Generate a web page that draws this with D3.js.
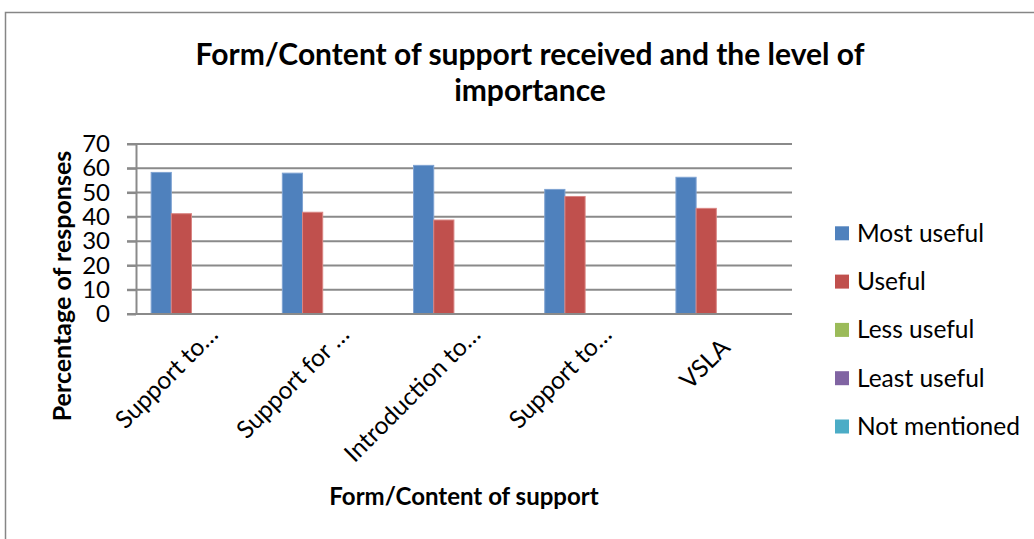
<!DOCTYPE html>
<html>
<head>
<meta charset="utf-8">
<script src="https://cdn.jsdelivr.net/npm/d3@7/dist/d3.min.js"></script>
<style>
  html, body { margin: 0; padding: 0; background: #fff; }
  svg { display: block; }
  text { font-family: Lato, "Open Sans", sans-serif; fill: #000; white-space: pre; }
</style>
</head>
<body>
<svg id="chart" width="1034" height="539"></svg>
<script>
// Categories (truncated labels as displayed on the axis)
const categories = ["Support to\u2026", "Support for \u2026", "Introduction to\u2026", "Support to\u2026", "VSLA"];
const seriesNames = ["Most useful", "Useful", "Less useful", "Least useful", "Not mentioned"];
const seriesColors = ["#4F81BD", "#C0504D", "#9BBB59", "#8064A2", "#4BACC6"];
const edgeColors  = ["#7FA3D2", "#D98583", "#B9D18A", "#A691C0", "#80C6D8"];

// Percentage of responses per series, one value per category
const mostUseful    = [58.3, 58.0, 61.2, 51.3, 56.3];
const useful        = [41.3, 41.9, 38.7, 48.4, 43.5];
const lessUseful    = [0, 0, 0, 0, 0];
const leastUseful   = [0, 0, 0, 0, 0];
const notMentioned  = [0, 0, 0, 0, 0];
const seriesValues = [mostUseful, useful, lessUseful, leastUseful, notMentioned];

const yTicks = [0, 10, 20, 30, 40, 50, 60, 70];

const svg = d3.select("#chart");

// Outer chart frame
svg.append("rect")
  .attr("x", 5.5).attr("y", 12.5)
  .attr("width", 1200).attr("height", 700)
  .attr("fill", "#fff").attr("stroke", "#868686").attr("stroke-width", 1.5);

const plot = { left: 136, right: 792, top: 144, bottom: 314 };

const y = d3.scaleLinear().domain([0, 70]).range([plot.bottom, plot.top]);
const x0 = d3.scaleBand().domain(d3.range(categories.length)).range([plot.left, plot.right]).padding(0);
const x1 = d3.scaleBand().domain(d3.range(seriesNames.length))
  .range([0, x0.bandwidth()]).paddingInner(0).paddingOuter(0.75);

// Horizontal gridlines
svg.append("g").selectAll("line").data(yTicks).join("line")
  .attr("x1", plot.left - 9).attr("x2", plot.right)
  .attr("y1", d => y(d)).attr("y2", d => y(d))
  .attr("stroke", "#8a8a8a").attr("stroke-width", 2);

// Value axis
const yAxis = svg.append("g")
  .attr("transform", `translate(${plot.left},0)`)
  .call(d3.axisLeft(y).tickValues(yTicks).tickSize(9).tickPadding(17).tickSizeOuter(0));
yAxis.select(".domain").attr("stroke", "#8a8a8a").attr("stroke-width", 2);
yAxis.selectAll(".tick line").attr("stroke", "#8a8a8a").attr("stroke-width", 2);
yAxis.selectAll(".tick text")
  .style("font-family", "Lato, sans-serif").style("font-size", "24px").attr("fill", "#000");

// Bars
const groups = svg.append("g").selectAll("g").data(categories).join("g")
  .attr("transform", (d, i) => `translate(${x0(i)},0)`);
groups.selectAll("rect")
  .data((d, i) => seriesValues.map((vals, s) => ({ s, v: vals[i] })))
  .join("rect")
  .attr("x", d => x1(d.s))
  .attr("width", x1.bandwidth())
  .attr("y", d => y(d.v))
  .attr("height", d => y(0) - y(d.v))
  .attr("fill", d => seriesColors[d.s])
  .attr("stroke", d => d.v > 0 ? edgeColors[d.s] : "none")
  .attr("stroke-width", 1);

// Category axis line
svg.append("line")
  .attr("x1", plot.left - 9).attr("x2", plot.right)
  .attr("y1", plot.bottom).attr("y2", plot.bottom)
  .attr("stroke", "#8a8a8a").attr("stroke-width", 2);

// Rotated category labels: the label body ends at the anchor, a truncation
// ellipsis (if any) runs past it
const catLabels = svg.append("g").selectAll("g").data(categories).join("g")
  .attr("transform", (d, i) => `translate(${x0(i) + x0.bandwidth() / 2 + 5},349) rotate(-45)`)
  .style("font-size", "24.5px");
catLabels.append("text")
  .attr("text-anchor", "end")
  .text(d => d.replace(/\u2026$/, ""));
catLabels.append("text")
  .attr("text-anchor", "start")
  .text(d => d.endsWith("\u2026") ? "\u2026" : "");

// Title
const title = svg.append("text")
  .attr("x", 530).attr("text-anchor", "middle")
  .style("font-size", "30px").style("font-weight", "bold");
title.append("tspan").attr("x", 530).attr("y", 65).text("Form/Content of support received and the level of");
title.append("tspan").attr("x", 530).attr("y", 101).text("importance");

// Axis titles
svg.append("text")
  .attr("x", 464).attr("y", 505).attr("text-anchor", "middle")
  .style("font-size", "24px").style("font-weight", "bold")
  .text("Form/Content of support");

svg.append("text")
  .attr("transform", "translate(71,286) rotate(-90)")
  .attr("text-anchor", "middle")
  .style("font-size", "25px").style("font-weight", "bold")
  .text("Percentage of responses");

// Legend
const legend = svg.append("g").selectAll("g").data(seriesNames).join("g")
  .attr("transform", (d, i) => `translate(835,${233.3 + i * 48.3})`);
legend.append("rect")
  .attr("x", 0).attr("y", -7).attr("width", 14).attr("height", 14)
  .attr("fill", (d, i) => seriesColors[i]);
legend.append("text")
  .attr("x", 22).attr("y", 8.5)
  .style("font-size", "24.5px")
  .text(d => d);
</script>
</body>
</html>
